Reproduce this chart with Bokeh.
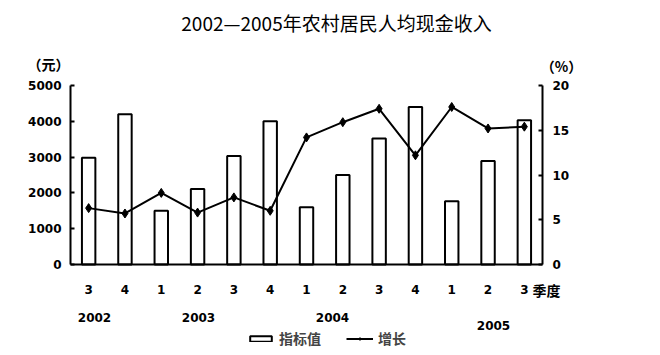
from bokeh.plotting import figure
from bokeh.models import (Range1d, LinearAxis, FixedTicker, Label, Legend, LegendItem)
from bokeh.embed import file_html
from bokeh.resources import INLINE

# ---- data ----
quarters = ["3", "4", "1", "2", "3", "4", "1", "2", "3", "4", "1", "2", "3"]
years = ["2002", "2003", "2004", "2005"]
income = [2980, 4200, 1500, 2110, 3030, 4000, 1600, 2500, 3520, 4400, 1770, 2890, 4030]
growth = [6.3, 5.7, 8.0, 5.8, 7.5, 6.0, 14.2, 15.9, 17.4, 12.2, 17.6, 15.2, 15.4]
left_ticks = [0, 1000, 2000, 3000, 4000, 5000]
right_ticks = [0, 5, 10, 15, 20]

idx = list(range(len(quarters)))
N = len(quarters)

# ---- layout geometry (canvas pixels) ----
FL, FR, FT, FB = 70, 542, 85, 264   # plot area edges
W, H = 652, 352
CJK = "Noto Sans CJK SC"
NUM = "DejaVu Sans"
YMAX, PMAX = 5000, 20


def px_x(px):
    return -0.5 + (px - FL) / (FR - FL) * N


def px_y(py):
    return (FB - py) / (FB - FT) * YMAX


def px_p(py):
    return (FB - py) / (FB - FT) * PMAX


p = figure(width=W, height=H, output_backend="svg", toolbar_location=None,
           x_range=Range1d(px_x(0), px_x(W)), y_range=Range1d(px_y(H), px_y(0)),
           x_axis_type=None, y_axis_type=None,
           min_border=0)
p.extra_y_ranges = {"pct": Range1d(px_p(H), px_p(0))}
p.outline_line_color = None
p.xgrid.visible = False
p.ygrid.visible = False
p.background_fill_color = "white"
p.border_fill_color = "white"


def style_axis(ax):
    ax.axis_line_width = 2
    ax.axis_line_color = "black"
    ax.major_tick_line_width = 2
    ax.major_tick_line_color = "black"
    ax.minor_tick_line_color = None
    ax.major_label_text_font = NUM
    ax.major_label_text_font_style = "bold"
    ax.major_label_text_font_size = "12px"
    ax.major_label_text_color = "black"


left = LinearAxis(ticker=FixedTicker(ticks=left_ticks), bounds=(0, YMAX),
                  fixed_location=-0.5)
style_axis(left)
left.major_tick_in = 4
left.major_tick_out = 0
left.major_label_standoff = 9
p.add_layout(left, "left")

right = LinearAxis(y_range_name="pct", ticker=FixedTicker(ticks=right_ticks),
                   bounds=(0, PMAX), fixed_location=N - 0.5)
style_axis(right)
right.major_tick_in = 4
right.major_tick_out = 0
right.major_label_standoff = 10
p.add_layout(right, "right")

bottom = LinearAxis(ticker=FixedTicker(ticks=idx), bounds=(-0.5, N - 0.5),
                    fixed_location=0,
                    major_label_overrides={i: q for i, q in zip(idx, quarters)})
style_axis(bottom)
bottom.major_tick_in = 0
bottom.major_tick_out = 0
bottom.major_label_standoff = 20
p.add_layout(bottom, "below")

bars = p.vbar(x=idx, top=income, width=0.37, fill_color="white",
              line_color="black", line_width=2)
ln = p.line(x=idx, y=growth, y_range_name="pct", line_color="black", line_width=2)
mk = p.scatter(x=idx, y=growth, y_range_name="pct", marker="diamond", size=9,
               fill_color="black", line_color="black")


# ---- texts ----
def add_text(txt, px, py, font, size, style="normal", align="center"):
    p.add_layout(Label(x=px_x(px), y=px_y(py), text=txt, text_align=align,
                       text_baseline="middle", text_font=font,
                       text_font_size=size, text_font_style=style,
                       text_color="black"))


add_text("2002—2005年农村居民人均现金收入", 336, 22, CJK, "19px")
add_text("（元）", 48, 63, CJK, "14px", "bold")
add_text("（%）", 561, 65, CJK, "14px", "bold")
add_text("季度", 546, 289, CJK, "14px", "bold")
year_pos = [(94, 317), (198, 317), (332, 317), (493, 325)]
for y_txt, (px, py) in zip(years, year_pos):
    add_text(y_txt, px, py, NUM, "12px", "bold")

legend = Legend(items=[LegendItem(label="指标值", renderers=[bars]),
                       LegendItem(label="增长", renderers=[ln, mk])],
                location=(247, H - 348), orientation="horizontal",
                border_line_color=None, background_fill_alpha=0,
                padding=0, margin=0, spacing=25, label_standoff=5,
                glyph_width=27, glyph_height=7,
                label_text_font=CJK, label_text_font_style="bold",
                label_text_font_size="14px")
p.add_layout(legend, "center")

open("out.html", "w").write(file_html(p, INLINE))
